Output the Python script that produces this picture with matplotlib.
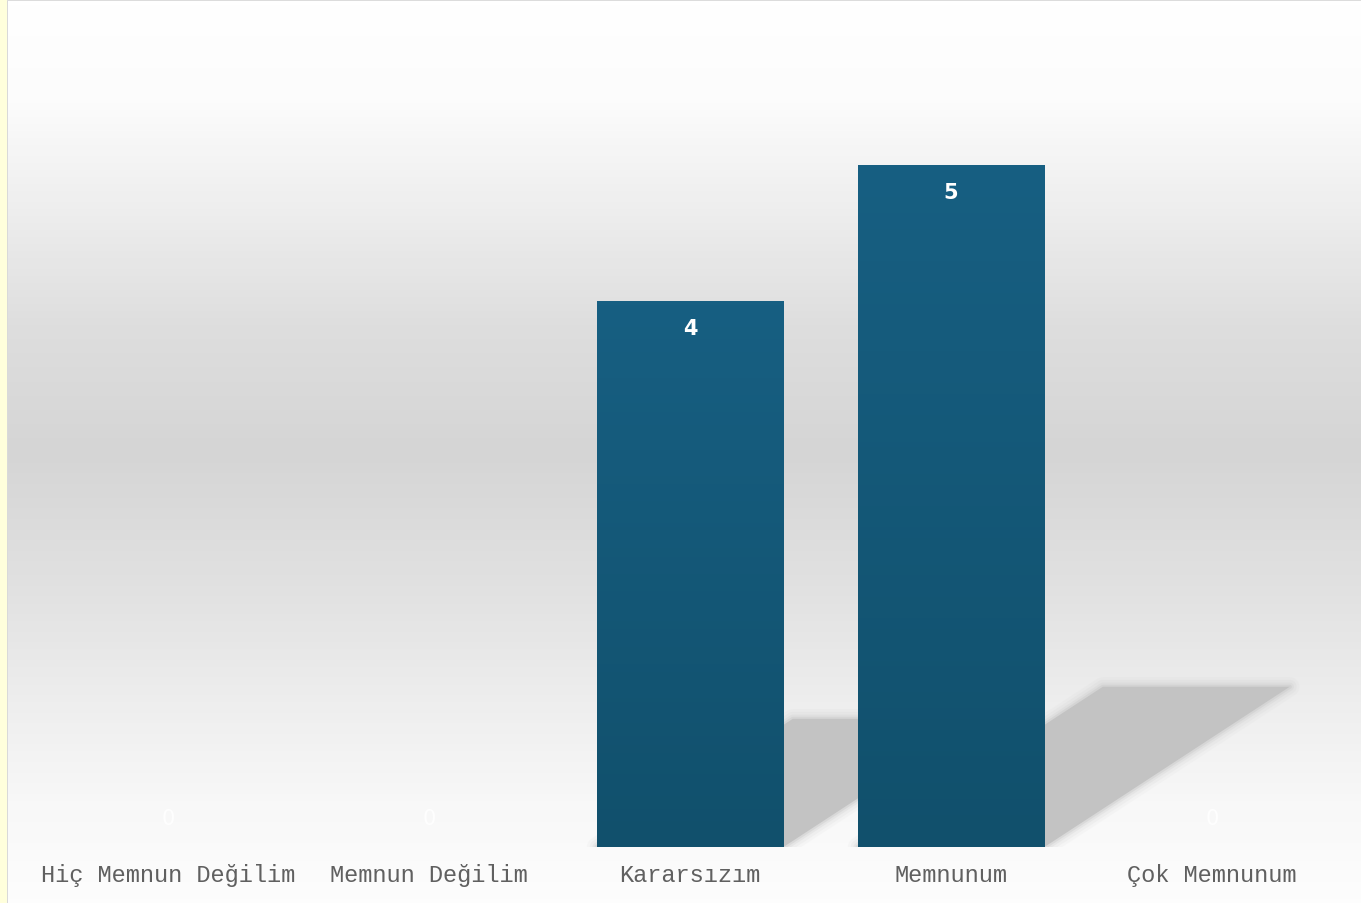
import numpy as np
import matplotlib.pyplot as plt
from matplotlib.patches import Polygon, Rectangle
from matplotlib.colors import LinearSegmentedColormap

# survey answers and counts
categories = ['Hiç Memnun Değilim', 'Memnun Değilim', 'Kararsızım', 'Memnunum', 'Çok Memnunum']
values = [0, 0, 4, 5, 0]

W, H = 1361, 904
fig = plt.figure(figsize=(W / 100, H / 100), dpi=100)

# background layer in pixel coords: yellow strip, border lines, gray gradient
bg = fig.add_axes([0, 0, 1, 1])
bg.set_xlim(0, W)
bg.set_ylim(H, 0)
bg.axis('off')
bg_cmap = LinearSegmentedColormap.from_list('bg', [
    (0.00, '#ffffff'), (0.11, '#fcfcfc'), (0.22, '#efefef'), (0.36, '#dedede'),
    (0.50, '#d5d5d5'), (0.66, '#e2e2e2'), (0.78, '#eeeeee'), (0.89, '#f8f8f8'),
    (1.00, '#fdfdfd')])
grad = np.linspace(0, 1, 256).reshape(-1, 1)
bg.imshow(grad, cmap=bg_cmap, aspect='auto', extent=[8, W, H, 2], vmin=0, vmax=1)
bg.add_patch(Rectangle((0, 0), 7.5, H, color='#ffffdc', lw=0))
bg.add_patch(Rectangle((7, 0), 1.5, H, color='#d9d9d9', lw=0))
bg.add_patch(Rectangle((7, 0), W, 2, color='#dcdcdc', lw=0))
bg.set_xlim(0, W)
bg.set_ylim(H, 0)

# main chart
px_per_unit = 136.4
ax = fig.add_axes([37.5 / W, 56 / H, 1305 / W, 846 / H])
ax.patch.set_alpha(0)
for s in ax.spines.values():
    s.set_visible(False)

x = np.arange(len(categories))
width = 0.716
bars = ax.bar(x, values, width=width, color='#155a7a', zorder=3)

bar_cmap = LinearSegmentedColormap.from_list('bar', ['#11506c', '#175f82'])
for rect, v in zip(bars, values):
    if v <= 0:
        continue
    x0 = rect.get_x()
    x1 = x0 + rect.get_width()
    # soft parallelogram shadow behind the bar
    dx, dy = 0.188 * v, 0.235 * v
    pts = [(x0, 0), (x1, 0), (x1 + dx, dy), (x0 + dx, dy)]
    for lw, a in [(14, 0.08), (10, 0.12), (6, 0.2), (3, 0.35)]:
        ax.add_patch(Polygon(pts, closed=True, facecolor='none', edgecolor='#c4c4c4',
                             lw=lw, alpha=a, joinstyle='round', zorder=1))
    ax.add_patch(Polygon(pts, closed=True, facecolor='#c3c3c3', edgecolor='none', zorder=2))
    ax.imshow(np.linspace(0, 1, 128).reshape(-1, 1), cmap=bar_cmap, aspect='auto',
              extent=[x0, x1, 0, v], origin='lower', zorder=4)

ax.set_xlim(-0.5, 4.5)
ax.set_ylim(0, 846 / px_per_unit)
ax.set_xticks([])
ax.set_yticks([])

for i, (cat, v) in enumerate(zip(categories, values)):
    ax.annotate(cat, (i, 0), xytext=(0, -28), textcoords='offset pixels',
                ha='center', va='center', fontsize=17, color='#606060',
                family='Liberation Mono', annotation_clip=False)
    if v > 0:
        ax.annotate(str(v), (i, v), xytext=(0, -27), textcoords='offset pixels',
                    ha='center', va='center', fontsize=15, color='white',
                    fontweight='bold', zorder=5)
    else:
        ax.annotate(str(v), (i, 0), xytext=(0, 29), textcoords='offset pixels',
                    ha='center', va='center', fontsize=15, color='white',
                    alpha=0.9, zorder=5)

fig.savefig('out.png', dpi=100)
